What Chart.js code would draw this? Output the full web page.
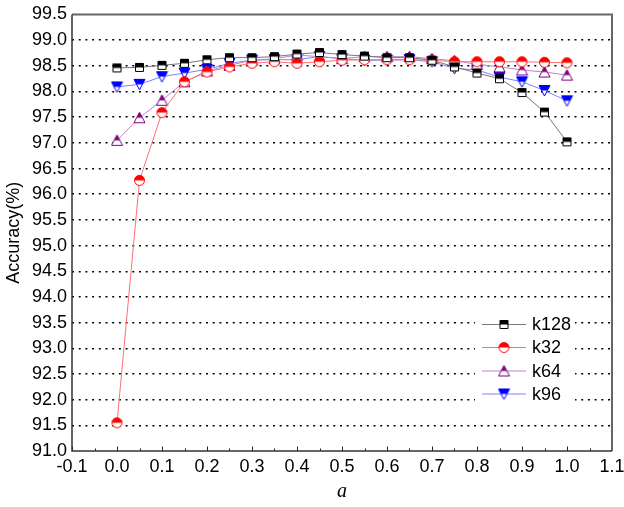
<!DOCTYPE html>
<html>
<head>
<meta charset="utf-8">
<script src="https://cdn.jsdelivr.net/npm/chart.js@4/dist/chart.umd.min.js"></script>
<style>
  html, body { margin: 0; padding: 0; background: #fff; }
  #wrap { width: 624px; height: 507px; position: relative; }
</style>
</head>
<body>
<div id="wrap"><canvas id="c" width="624" height="507"></canvas></div>
<script>
// ---- data ----
const aValues = [0, 0.05, 0.1, 0.15, 0.2, 0.25, 0.3, 0.35, 0.4, 0.45, 0.5, 0.55, 0.6, 0.65, 0.7, 0.75, 0.8, 0.85, 0.9, 0.95, 1.0];
const k128 = [98.46, 98.47, 98.51, 98.55, 98.62, 98.66, 98.66, 98.68, 98.73, 98.76, 98.72, 98.69, 98.66, 98.66, 98.61, 98.48, 98.36, 98.25, 97.98, 97.60, 97.02];
const k32  = [91.55, 96.27, 97.59, 98.19, 98.38, 98.48, 98.55, 98.58, 98.55, 98.58, 98.61, 98.62, 98.62, 98.62, 98.61, 98.58, 98.58, 98.58, 98.58, 98.57, 98.56];
const k64  = [97.05, 97.49, 97.83, 98.19, 98.40, 98.51, 98.61, 98.64, 98.71, 98.68, 98.64, 98.68, 98.68, 98.68, 98.64, 98.60, 98.53, 98.48, 98.42, 98.38, 98.32];
const k96  = [98.09, 98.14, 98.29, 98.36, 98.43, 98.55, 98.61, 98.62, 98.62, 98.68, 98.64, 98.61, 98.61, 98.62, 98.58, 98.45, 98.42, 98.28, 98.19, 98.02, 97.82];
const seriesNames = ["k128", "k32", "k64", "k96"];
const xTickMin = -0.1, xTickMax = 1.1, xStep = 0.1;
const yTickMin = 91.0, yTickMax = 99.5, yStep = 0.5;

// ---- styles ----
function makeMarker(shape, color) {
  const s = 13, c = document.createElement('canvas');
  c.width = s; c.height = s;
  const g = c.getContext('2d');
  const cx = s / 2, cy = s / 2;
  function path() {
    g.beginPath();
    if (shape === 'square') { g.rect(2.5, 2.5, 8, 8); }
    else if (shape === 'circle') { g.arc(cx, cy, 5, 0, Math.PI * 2); }
    else if (shape === 'up') { g.moveTo(cx, 1); g.lineTo(12, 11.5); g.lineTo(1, 11.5); g.closePath(); }
    else { g.moveTo(1, 1.5); g.lineTo(12, 1.5); g.lineTo(cx, 12); g.closePath(); }
  }
  path(); g.fillStyle = '#fff'; g.fill();
  g.save(); path(); g.clip();
  g.fillStyle = color; g.fillRect(0, 0, s, cy); g.restore();
  path(); g.strokeStyle = color; g.lineWidth = 1; g.stroke();
  return c;
}
const styles = [
  { line: '#777777', marker: makeMarker('square', '#000000') },
  { line: '#ff7070', marker: makeMarker('circle', '#ff0000') },
  { line: '#c080c8', marker: makeMarker('up', '#800080') },
  { line: '#8080ff', marker: makeMarker('down', '#0000ff') }
];
const seriesData = [k128, k32, k64, k96];

const datasets = seriesNames.map((name, i) => ({
  label: name,
  data: aValues.map((a, j) => ({ x: a, y: seriesData[i][j] })),
  borderColor: styles[i].line,
  borderWidth: 1,
  pointStyle: styles[i].marker,
  pointRadius: 6,
  pointHoverRadius: 6,
  fill: false,
  tension: 0
}));

const framePlugin = {
  id: 'frame',
  afterDraw(chart) {
    const { ctx, chartArea: ca, scales } = chart;
    const xs = scales.x;
    ctx.save();
    // legend
    const lx = 475, ly = 311, lw = 100, lh = 95;
    ctx.fillStyle = '#fff';
    ctx.fillRect(lx, ly, lw, lh);
    const rowY = [324.5, 347.5, 371, 394];
    chart.data.datasets.forEach((ds, i) => {
      const y = rowY[i];
      ctx.strokeStyle = ds.borderColor; ctx.lineWidth = 1;
      ctx.beginPath(); ctx.moveTo(482, y); ctx.lineTo(526, y); ctx.stroke();
      ctx.drawImage(ds.pointStyle, 504 - 6.5, y - 6.5);
      ctx.fillStyle = '#000';
      ctx.font = '18px "Liberation Sans", Arial, sans-serif';
      ctx.textAlign = 'left'; ctx.textBaseline = 'middle';
      ctx.fillText(ds.label, 532, y + 1);
    });
    // x ticks inward
    ctx.strokeStyle = '#222'; ctx.lineWidth = 1;
    for (let k = 0; k <= Math.round((xTickMax - xTickMin) / (xStep / 2)); k++) {
      const v = xTickMin + k * xStep / 2;
      const px = Math.round(xs.getPixelForValue(v)) + 0.5;
      const len = (k % 2 === 0) ? 4.5 : 2.5;
      ctx.beginPath(); ctx.moveTo(px, ca.bottom); ctx.lineTo(px, ca.bottom - len); ctx.stroke();
    }
    // frame
    ctx.strokeStyle = '#666'; ctx.lineWidth = 2;
    ctx.beginPath(); ctx.moveTo(ca.left, ca.top); ctx.lineTo(ca.right, ca.top); ctx.lineTo(ca.right, ca.bottom); ctx.stroke();
    ctx.strokeStyle = '#333'; ctx.lineWidth = 1.5;
    ctx.beginPath(); ctx.moveTo(ca.left, ca.top); ctx.lineTo(ca.left, ca.bottom); ctx.lineTo(ca.right, ca.bottom); ctx.stroke();
    ctx.restore();
  }
};

const tickFont = { family: '"Liberation Sans", Arial, sans-serif', size: 18 };

new Chart(document.getElementById('c'), {
  type: 'line',
  data: { datasets },
  plugins: [framePlugin],
  options: {
    responsive: false,
    animation: false,
    events: [],
    layout: { padding: { top: 14.5, right: 12, left: 0, bottom: 0 } },
    plugins: { legend: { display: false }, tooltip: { enabled: false } },
    scales: {
      x: {
        type: 'linear',
        min: xTickMin, max: xTickMax,
        grid: { display: false, drawTicks: false },
        border: { display: false },
        ticks: {
          stepSize: xStep, autoSkip: false, maxRotation: 0, padding: 5,
          color: '#000', font: tickFont,
          callback: v => Number(v).toFixed(1)
        },
        title: {
          display: true, text: 'a', color: '#000',
          font: { family: '"Liberation Serif", "Times New Roman", serif', size: 20, style: 'italic' },
          padding: { top: 0, bottom: 3 }
        },
        afterFit(s) { s.height = 56; s.paddingLeft = 0; s.paddingRight = 0; }
      },
      y: {
        type: 'linear',
        min: yTickMin, max: yTickMax,
        grid: {
          drawTicks: false, lineWidth: 1.5,
          color: ctx => (ctx.tick && (Math.abs(ctx.tick.value - yTickMin) < 1e-6 || Math.abs(ctx.tick.value - yTickMax) < 1e-6)) ? 'rgba(0,0,0,0)' : '#000',
          borderDash: [2, 4.7]
        },
        border: { display: false, dash: [2, 4.7] },
        ticks: {
          stepSize: yStep, autoSkip: false, padding: 5,
          color: '#000', font: tickFont,
          callback: v => Number(v).toFixed(1)
        },
        title: {
          display: true, text: 'Accuracy(%)', color: '#000',
          font: { family: '"Liberation Sans", Arial, sans-serif', size: 18 },
          padding: { top: 3, bottom: 0 }
        },
        afterFit(s) { s.width = 72; s.paddingTop = 0; s.paddingBottom = 0; }
      }
    }
  }
});
</script>
</body>
</html>
